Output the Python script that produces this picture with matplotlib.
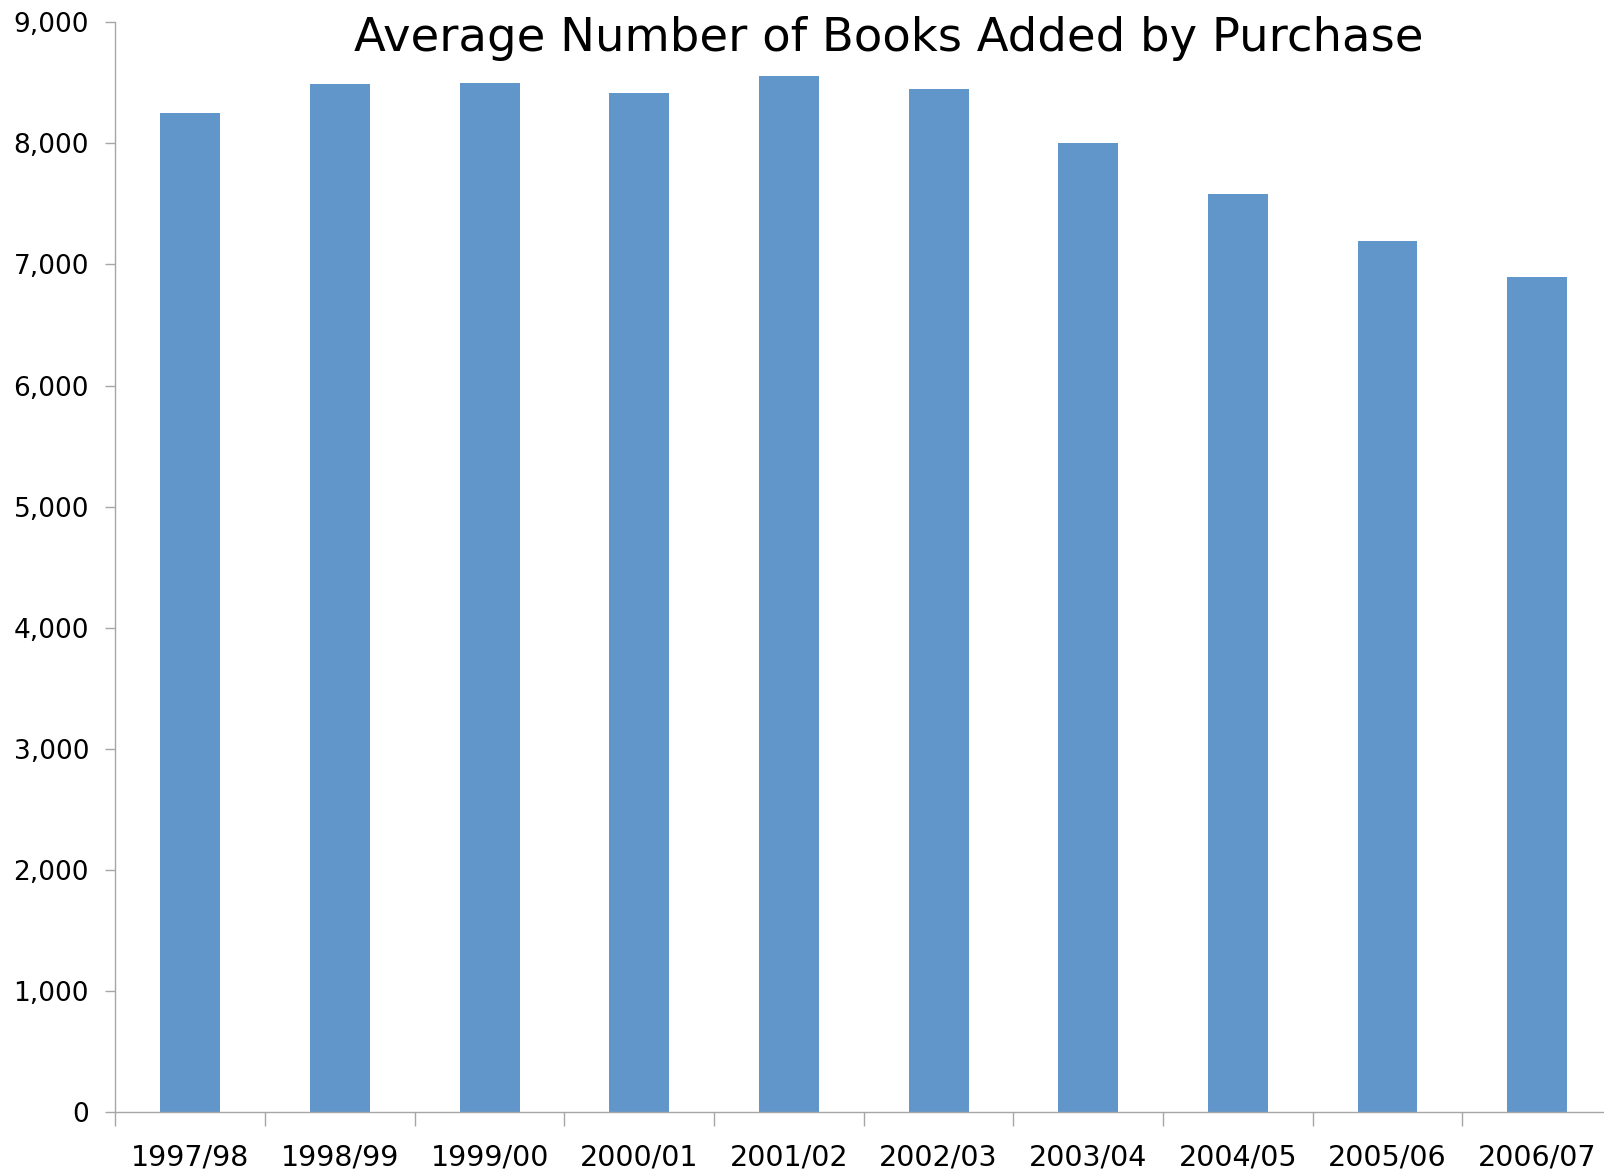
import numpy as np
import matplotlib
matplotlib.use("Agg")
import matplotlib.pyplot as plt
from matplotlib.ticker import FuncFormatter, FixedLocator

plt.rcParams["font.family"] = ["DejaVu Sans"]

# 数据
years = ["1997/98", "1998/99", "1999/00", "2000/01", "2001/02",
         "2002/03", "2003/04", "2004/05", "2005/06", "2006/07"]
books = [8250, 8490, 8500, 8420, 8560, 8450, 8000, 7580, 7190, 6900]

fig = plt.figure(figsize=(16.04, 11.73), dpi=100)
ax = fig.add_axes([0.072, 0.052, 0.933, 0.929])

x = np.arange(len(years))
ax.bar(x, books, width=0.4, color="#6096c9")

ax.set_xlim(-0.5, len(years) - 0.5)
ax.set_ylim(0, 9000)
ax.set_yticks(np.arange(0, 9001, 1000))
ax.yaxis.set_major_formatter(FuncFormatter(lambda v, p: f"{int(v):,}"))

# 类别分隔刻度（主刻度）+ 居中标签（次刻度）
ax.xaxis.set_major_locator(FixedLocator(np.arange(-0.5, len(years), 1.0)))
ax.xaxis.set_major_formatter(FuncFormatter(lambda v, p: ""))
ax.xaxis.set_minor_locator(FixedLocator(x))
ax.set_xticklabels(years, minor=True)
ax.tick_params(axis="x", which="major", length=10, width=1, color="#a6a6a6", direction="out")
ax.tick_params(axis="x", which="minor", length=0, pad=23, labelsize=20.5)
ax.tick_params(axis="y", length=7, width=1, color="#a6a6a6", pad=12, labelsize=19)

for side in ["top", "right"]:
    ax.spines[side].set_visible(False)
for side in ["left", "bottom"]:
    ax.spines[side].set_color("#a6a6a6")
    ax.spines[side].set_linewidth(1)

fig.text(0.554, 0.967, "Average Number of Books Added by Purchase",
         ha="center", va="center", fontsize=33.5, fontweight="medium")

fig.savefig("out.png", dpi=100)
